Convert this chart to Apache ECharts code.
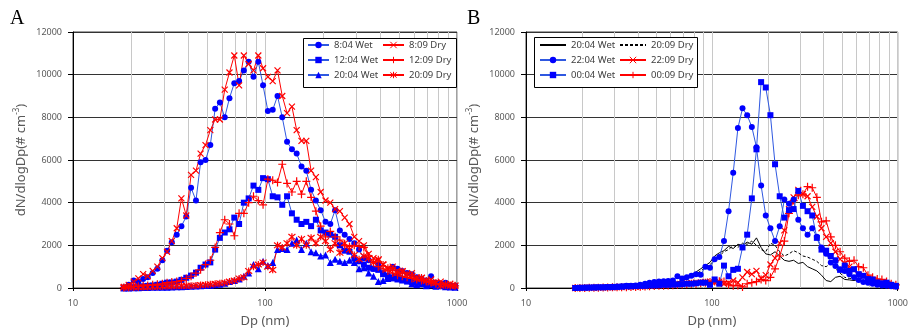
<!DOCTYPE html>
<html>
<head>
<meta charset="utf-8">
<title>Size distributions</title>
<script src="https://cdn.jsdelivr.net/npm/echarts@6/dist/echarts.min.js"></script>
<style>
  html, body { margin: 0; padding: 0; background: #fff; }
  #chart { width: 911px; height: 333px; }
</style>
</head>
<body>
<div id="chart"></div>
<script>
// mobility diameter bins (nm)
var diameters = [18.4, 19.5, 20.7, 21.9, 23.2, 24.5, 26.0, 27.5, 29.2, 30.9,
  32.7, 34.7, 36.7, 38.9, 41.2, 43.7, 46.2, 49.0, 51.9, 55.0,
  58.2, 61.7, 65.3, 69.2, 73.3, 77.6, 82.2, 87.1, 92.3, 97.7,
  103.5, 109.7, 116.2, 123.0, 130.3, 138.1, 146.2, 154.9, 164.1, 173.8,
  184.1, 195.0, 206.6, 218.8, 231.8, 245.5, 260.0, 275.4, 291.8, 309.0,
  327.3, 346.8, 367.3, 389.1, 412.1, 436.5, 462.4, 489.8, 518.8, 549.5,
  582.1, 616.6, 653.2, 691.9, 732.9, 776.3, 822.3, 871.0, 922.6, 977.3]

// vertical light grid lines between decades
var minorGrid = [20, 30, 40, 50, 60, 70, 80, 90, 200, 300, 400, 500, 600, 700, 800, 900]

// panel A
var wetA0804 = [30, 150, 350, 300, 420, 500, 700, 900, 1300, 1750,
  2150, 2500, 2900, 3350, 4700, 4100, 5900, 6000, 6700, 8400,
  8700, 8000, 8900, 9600, 9700, 10200, 10600, 9900, 10600, 9500,
  8300, 8350, 9000, 8000, 6850, 6500, 6300, 5700, 5500, 4600,
  4100, 3650, 3100, 3000, 3650, 2700, 2500, 2300, 2100, 1800,
  1400, 1300, 900, 1100, 700, 600, 1000, 900, 800, 700,
  650, 500, 450, 350, 550, 250, 200, 250, 100, 100]
var dryA0809 = [50, 150, 300, 450, 650, 550, 800, 1000, 1400, 1700,
  2200, 2800, 4200, 3400, 5300, 5500, 6300, 6700, 7400, 7900,
  7900, 9300, 10100, 10900, 9500, 10900, 10500, 10200, 10900, 10300,
  9900, 9700, 10200, 9000, 8200, 8500, 7400, 6900, 6900, 5500,
  5200, 4500, 4100, 4000, 3700, 3600, 3300, 3000, 2400, 2200,
  2000, 1600, 1400, 1300, 1100, 900, 1000, 800, 750, 650,
  700, 500, 450, 350, 400, 250, 300, 150, 200, 100]
var wetA1204 = [0, 20, 40, 60, 80, 100, 120, 150, 200, 250,
  260, 300, 380, 480, 580, 720, 950, 1100, 1200, 1800,
  2350, 2600, 2750, 3300, 3000, 4000, 4200, 4800, 4600, 5150,
  5100, 4300, 4250, 3900, 4300, 3500, 3200, 3000, 3100, 2900,
  3200, 2700, 2600, 2500, 2400, 2000, 1750, 1700, 1400, 1250,
  1100, 950, 900, 850, 650, 500, 450, 400, 350, 300,
  280, 250, 200, 180, 150, 120, 100, 80, 60, 50]
var dryA1209 = [20, 40, 60, 80, 100, 120, 150, 170, 200, 250,
  280, 300, 350, 450, 550, 700, 850, 1100, 1300, 1900,
  2600, 3200, 3000, 2450, 3500, 3500, 4000, 4300, 4100, 3900,
  5100, 5050, 4950, 5800, 4900, 4500, 5000, 4400, 5000, 4250,
  3600, 2900, 2400, 2650, 2400, 2250, 2000, 1950, 2000, 1950,
  1900, 1500, 1200, 1000, 900, 800, 700, 600, 550, 500,
  450, 400, 350, 300, 250, 200, 180, 150, 120, 100]
var wetA2004 = [0, 0, 10, 10, 20, 20, 30, 30, 40, 40,
  50, 60, 60, 70, 80, 90, 100, 120, 130, 150,
  180, 220, 300, 350, 420, 550, 700, 1100, 900, 1250,
  1050, 1200, 1800, 1850, 1800, 2100, 2250, 1800, 2100, 1700,
  1650, 1500, 1550, 1200, 1350, 1250, 1200, 1300, 1200, 900,
  950, 700, 550, 300, 350, 450, 600, 650, 500, 420,
  200, 150, 200, 100, 150, 80, 100, 60, 50, 40]
var dryA2009 = [20, 30, 40, 40, 50, 50, 60, 60, 70, 80,
  80, 90, 100, 100, 110, 120, 140, 150, 170, 200,
  220, 250, 300, 350, 450, 500, 800, 1000, 1100, 1200,
  1000, 850, 2000, 1900, 2100, 2400, 2000, 2300, 2000, 2350,
  2100, 2400, 2200, 1800, 2100, 1650, 2100, 1800, 1550, 1350,
  1500, 1400, 1200, 1350, 1100, 950, 880, 720, 800, 650,
  570, 420, 490, 340, 260, 250, 110, 180, 100, 120]

// panel B
var wetB2004 = [0, 0, 10, 10, 10, 20, 20, 30, 30, 40,
  40, 50, 60, 60, 70, 80, 90, 100, 120, 150,
  180, 220, 280, 350, 450, 600, 750, 900, 1050, 1200,
  1500, 1650, 1750, 1950, 1850, 2050, 2000, 2150, 2050, 2350,
  1900, 1600, 1550, 1700, 1500, 1300, 1250, 1300, 1150, 1200,
  1000, 900, 800, 600, 350, 300, 500, 550, 400, 380,
  350, 400, 300, 200, 150, 100, 80, 60, 50, 40]
var dryB2009 = [0, 0, 10, 10, 20, 20, 30, 30, 40, 40,
  50, 50, 60, 70, 80, 90, 100, 110, 130, 150,
  180, 220, 280, 350, 450, 550, 650, 800, 950, 1100,
  1300, 1500, 1700, 1800, 2000, 1900, 2100, 2050, 2200, 2000,
  1800, 1700, 2100, 2000, 1700, 1500, 1600, 1750, 1650, 1500,
  1450, 1350, 1250, 1050, 1000, 1150, 900, 700, 500, 450,
  450, 400, 350, 250, 200, 150, 100, 80, 60, 50]
var wetB2204 = [0, 10, 20, 20, 30, 30, 40, 50, 60, 70,
  80, 100, 100, 120, 150, 200, 250, 280, 300, 320,
  330, 350, 550, 450, 500, 570, 650, 620, 1000, 950,
  1350, 1450, 2200, 3600, 5400, 7500, 8420, 8100, 7550, 6600,
  4800, 3400, 2800, 2200, 2900, 4150, 3950, 4150, 3200, 2800,
  2500, 2800, 2400, 1900, 1600, 1200, 1030, 880, 800, 650,
  500, 380, 280, 250, 200, 150, 120, 100, 80, 60]
var dryB2209 = [0, 0, 10, 10, 10, 20, 20, 30, 30, 40,
  40, 50, 50, 60, 70, 80, 100, 110, 120, 130,
  150, 160, 180, 200, 220, 230, 250, 250, 280, 300,
  250, 300, 200, 250, 350, 250, 500, 750, 650, 800,
  450, 600, 1100, 1400, 2100, 2700, 3700, 4250, 4600, 4400,
  4300, 3800, 3350, 2800, 2400, 2100, 1700, 1350, 1150, 1000,
  850, 600, 550, 420, 350, 280, 250, 180, 120, 80]
var wetB0004 = [0, 10, 10, 20, 20, 30, 30, 40, 40, 50,
  60, 80, 80, 90, 100, 100, 120, 120, 130, 150,
  150, 160, 170, 180, 200, 200, 220, 250, 250, 150,
  400, 200, 1050, 550, 850, 900, 1900, 2500, 4200, 6500,
  9650, 9400, 8100, 5800, 4300, 3300, 3650, 3700, 4550, 3850,
  3600, 3400, 2350, 1800, 1750, 1500, 1300, 850, 1050, 800,
  880, 650, 570, 420, 400, 260, 220, 250, 150, 100]
var dryB0009 = [0, 0, 0, 10, 10, 10, 20, 20, 30, 30,
  40, 40, 50, 50, 60, 70, 80, 90, 100, 110,
  120, 130, 150, 160, 180, 200, 200, 220, 250, 280,
  300, 320, 300, 150, 100, 120, 50, 200, 250, 300,
  400, 350, 500, 900, 1500, 2200, 3500, 4100, 4350, 4400,
  4750, 4700, 4250, 3100, 3150, 2400, 2000, 1700, 1400, 1250,
  1300, 1000, 950, 600, 500, 420, 400, 300, 200, 150]

var chart = echarts.init(document.getElementById('chart'))

var FONT = 'Noto Sans'
var GREY = '#595959'
var X_MARK = 'path://M0,0L10,10M10,0L0,10'
var PLUS_MARK = 'path://M5,0L5,10M0,5L10,5'
var STAR_MARK = 'path://M1,1L9,9M9,1L1,9M5,0L5,10'

function pts(vals) {
  return diameters.map(function (d, i) { return [d, vals[i]] })
}

// panel B series carry a "B " prefix so the two legends stay apart
function wet(name, vals, idx, symbol, size) {
  return {
    name: name, type: 'line', xAxisIndex: idx, yAxisIndex: idx,
    data: pts(vals), symbol: symbol, symbolSize: size,
    itemStyle: { color: '#0000ff' },
    lineStyle: { color: '#2f58e0', width: 1 },
    emphasis: { disabled: true }, z: 3
  }
}

function dry(name, vals, idx, symbol, size) {
  return {
    name: name, type: 'line', xAxisIndex: idx, yAxisIndex: idx,
    data: pts(vals), symbol: symbol, symbolSize: size,
    itemStyle: { color: 'rgba(0,0,0,0)', borderColor: '#ff0000', borderWidth: 1.2 },
    lineStyle: { color: '#ff0000', width: 1 },
    emphasis: { disabled: true }, z: 3
  }
}

function plain(name, vals, idx, dash) {
  return {
    name: name, type: 'line', xAxisIndex: idx, yAxisIndex: idx,
    data: pts(vals), symbol: 'none',
    itemStyle: { color: '#000' },
    lineStyle: { color: '#000', width: 1, type: dash ? [3, 2] : 'solid' },
    emphasis: { disabled: true }, z: 3
  }
}

function minorLines(idx) {
  return {
    type: 'line', xAxisIndex: idx, yAxisIndex: idx, data: [], silent: true,
    markLine: {
      silent: true, z: 1, symbol: ['none', 'none'], label: { show: false },
      lineStyle: { color: '#c8c8c8', type: 'solid', width: 1 },
      data: minorGrid.map(function (v) { return { xAxis: v } })
    }
  }
}

function xAxis(idx) {
  return {
    type: 'log', gridIndex: idx, logBase: 10, min: 10, max: 1000,
    name: 'Dp (nm)', nameLocation: 'middle', nameGap: 27,
    nameTextStyle: { fontSize: 13, color: GREY, fontFamily: FONT },
    axisLine: { show: true, lineStyle: { color: '#000' } },
    axisTick: { show: true, length: 3, lineStyle: { color: '#000' } },
    axisLabel: { fontSize: 9, color: GREY, fontFamily: FONT, margin: 11,
      formatter: function (v) { return String(v) } },
    splitLine: { show: true, lineStyle: { color: '#c8c8c8' } }
  }
}

function yAxis(idx) {
  return {
    type: 'value', gridIndex: idx, min: 0, max: 12000, interval: 2000,
    name: '{a|dN/dlogDp(# cm}{b|-3}{a|)}', nameLocation: 'middle', nameGap: 44,
    nameTextStyle: {
      rich: {
        a: { fontSize: 13, color: GREY, fontFamily: FONT, lineHeight: 16 },
        b: { fontSize: 8, color: GREY, fontFamily: FONT, lineHeight: 10, verticalAlign: 'top' }
      }
    },
    axisLine: { show: true, lineStyle: { color: '#000' } },
    axisTick: { show: true, length: 5, lineStyle: { color: '#000' } },
    axisLabel: { fontSize: 9, color: GREY, fontFamily: FONT, margin: 11,
      formatter: function (v) { return String(v) } },
    splitLine: { show: true, lineStyle: { color: '#333' } }
  }
}

// lineOnly: legend entries for series drawn without markers
function legend(names, left, top, width, lineOnly) {
  return {
    data: names.map(function (n) {
      return lineOnly && lineOnly.indexOf(n) >= 0
        ? { name: n, itemStyle: { color: 'rgba(0,0,0,0)', borderWidth: 0, opacity: 0 } }
        : { name: n }
    }),
    left: left, top: top, orient: 'vertical', padding: 0,
    itemWidth: width, itemHeight: 8, itemGap: 5, selectedMode: false,
    itemStyle: { borderWidth: 1 },
    formatter: function (n) { return n.replace(/^B /, '') },
    textStyle: { fontSize: 9.5, color: '#404040', fontFamily: FONT }
  }
}

chart.setOption({
  animation: false,
  grid: [
    { left: 73, top: 32, width: 384, height: 260, show: true, borderColor: '#404040', borderWidth: 1 },
    { left: 526, top: 32, width: 377, height: 260, show: true, borderColor: '#404040', borderWidth: 1 }
  ],
  xAxis: [xAxis(0), xAxis(1)],
  yAxis: [yAxis(0), yAxis(1)],
  legend: [
    legend(['8:04 Wet', '12:04 Wet', '20:04 Wet'], 307, 40, 21),
    legend(['8:09 Dry', '12:09 Dry', '20:09 Dry'], 382, 40, 21),
    legend(['B 20:04 Wet', 'B 22:04 Wet', 'B 00:04 Wet'], 539, 40, 26, ['B 20:04 Wet']),
    legend(['B 20:09 Dry', 'B 22:09 Dry', 'B 00:09 Dry'], 619, 40, 26, ['B 20:09 Dry'])
  ],
  graphic: [
    { type: 'rect', z: 3, shape: { x: 303.5, y: 38.5, width: 153, height: 49 },
      style: { fill: '#fff', stroke: '#000', lineWidth: 1 } },
    { type: 'rect', z: 3, shape: { x: 534.5, y: 37.5, width: 163, height: 50 },
      style: { fill: '#fff', stroke: '#000', lineWidth: 1 } },
    { type: 'text', left: 10, top: 9,
      style: { text: 'A', font: '20px "Liberation Serif"', fill: '#000' } },
    { type: 'text', left: 467, top: 9,
      style: { text: 'B', font: '20px "Liberation Serif"', fill: '#000' } }
  ],
  series: [
    minorLines(0),
    minorLines(1),
    wet('8:04 Wet', wetA0804, 0, 'circle', 6),
    wet('12:04 Wet', wetA1204, 0, 'rect', 6),
    wet('20:04 Wet', wetA2004, 0, 'triangle', 7),
    dry('8:09 Dry', dryA0809, 0, X_MARK, 6),
    dry('12:09 Dry', dryA1209, 0, PLUS_MARK, 8),
    dry('20:09 Dry', dryA2009, 0, STAR_MARK, 7),
    plain('B 20:04 Wet', wetB2004, 1, false),
    plain('B 20:09 Dry', dryB2009, 1, true),
    dry('B 22:09 Dry', dryB2209, 1, X_MARK, 6),
    dry('B 00:09 Dry', dryB0009, 1, PLUS_MARK, 8),
    wet('B 22:04 Wet', wetB2204, 1, 'circle', 6),
    wet('B 00:04 Wet', wetB0004, 1, 'rect', 6)
  ]
})
</script>
</body>
</html>
